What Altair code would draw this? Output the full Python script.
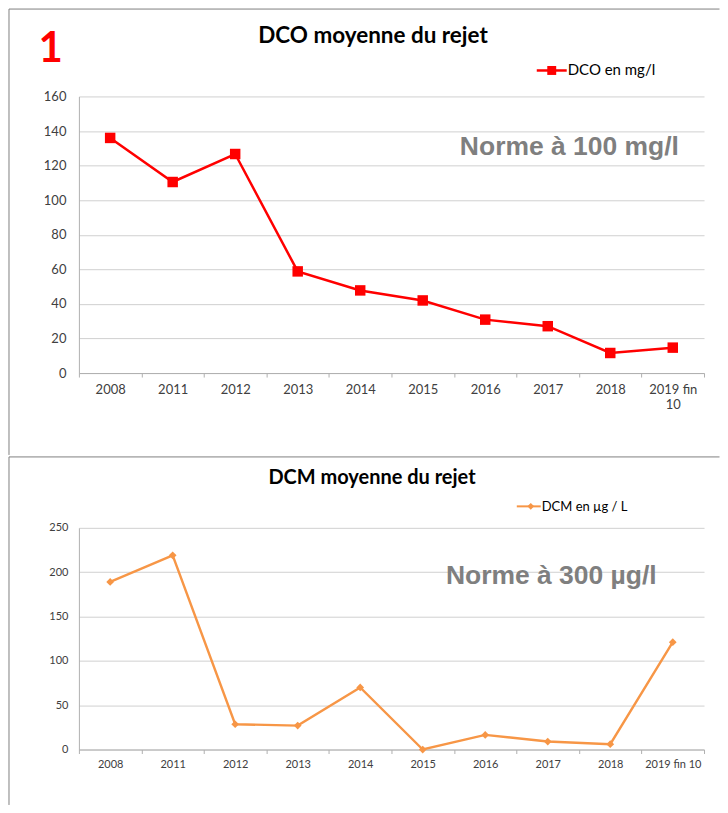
import altair as alt
import pandas as pd

years = ["2008", "2011", "2012", "2013", "2014", "2015", "2016", "2017", "2018", "2019 fin 10"]
dco = [136, 110.5, 126.7, 58.8, 47.8, 42.0, 30.9, 27.1, 11.6, 14.7]
dcm = [189, 219, 28.5, 27, 70, 0, 16.5, 9, 6, 121]

dco_ticks = [0, 20, 40, 60, 80, 100, 120, 140, 160]
dcm_ticks = [0, 50, 100, 150, 200, 250]

title1 = "DCO moyenne du rejet"
title2 = "DCM moyenne du rejet"
legend1 = "DCO en mg/l"
legend2 = "DCM en µg / L"
norme1 = "Norme à 100 mg/l"
norme2 = "Norme à 300 µg/l"
panel_no = "1"

W = 626
H1 = 277
H2 = 222
FONT = "Lato"
GRID = "#D0D0D0"
AXC = "#B0B0B0"
LBL = "#404040"
FRAME = "#808080"
RED = "#FF0000"
ORANGE = "#F79646"

df1 = pd.DataFrame({"year": years, "v": dco})
df2 = pd.DataFrame({"year": years, "v": dcm})
one = pd.DataFrame({"k": [0]})


def xenc(fs, pad, expr=None):
    ax = dict(title=None, labelAngle=0, tickBand="extent", tickSize=4,
              domainColor=AXC, tickColor=AXC, labelColor=LBL, labelFont=FONT,
              labelFontSize=fs, labelPadding=pad, grid=False, labelLineHeight=16)
    if expr:
        ax["labelExpr"] = expr
    return alt.X("year:N", sort=years, bandPosition=0.5,
                 scale=alt.Scale(type="band", paddingInner=0, paddingOuter=0),
                 axis=alt.Axis(**ax))


def yenc(ticks, fs, pad):
    return alt.Y("v:Q", scale=alt.Scale(domain=[ticks[0], ticks[-1]], nice=False),
                 axis=alt.Axis(title=None, values=ticks, ticks=False, domainColor=AXC,
                               gridColor=GRID, labelColor=LBL, labelFont=FONT,
                               labelFontSize=fs, labelPadding=pad))


def txt(s, x, y, size, color="#000000", weight="normal", font=FONT, align="left"):
    return alt.Chart(one).mark_text(text=s, font=font, fontSize=size, color=color,
                                    fontWeight=weight, align=align,
                                    baseline="alphabetic").encode(
        x=alt.value(x), y=alt.value(y))


def hrule(x1, x2, y, color=FRAME, w=1):
    return alt.Chart(one).mark_rule(color=color, strokeWidth=w).encode(
        x=alt.value(x1), x2=alt.value(x2), y=alt.value(y))


def vrule(x, y1, y2, color=FRAME, w=1):
    return alt.Chart(one).mark_rule(color=color, strokeWidth=w).encode(
        x=alt.value(x), y=alt.value(y1), y2=alt.value(y2))


# ---------- top panel (plot origin at page ~ (78.5, 96)) ----------
X0 = 78.5
Y0 = 96
b1 = alt.Chart(df1).encode(
    x=xenc(13, 6, "datum.value == '2019 fin 10' ? ['2019 fin', '10'] : datum.label"),
    y=yenc(dco_ticks, 13, 13))
line1 = b1.mark_line(color=RED, strokeWidth=2.5)
pts1 = b1.mark_point(shape="square", filled=True, size=110, color=RED, opacity=1)

top = alt.layer(
    line1, pts1,
    hrule(8.5 - X0, 720 - X0, 8.5 - Y0),
    vrule(8.5 - X0, 8.5 - Y0, 455 - Y0),
    txt(panel_no, 38 - X0, 62 - Y0, 42, RED, "bold"),
    txt(title1, 373 - X0, 42 - Y0, 22.5, "#000000", "bold", align="center"),
    hrule(537 - X0, 567 - X0, 70 - Y0, RED, 2.5),
    alt.Chart(one).mark_point(shape="square", filled=True, size=80, color=RED, opacity=1).encode(
        x=alt.value(552 - X0), y=alt.value(70 - Y0)),
    txt(legend1, 568 - X0, 75 - Y0, 15, "#000000"),
    txt(norme1, 460 - X0, 155 - Y0, 26.5, "#7F7F7F", "bold", font="Liberation Sans"),
).properties(width=W, height=H1)

# ---------- bottom panel (plot origin at page ~ (78.5, 526.5)) ----------
Y1 = 526.5
b2 = alt.Chart(df2).encode(x=xenc(11, 5), y=yenc(dcm_ticks, 11, 11))
line2 = b2.mark_line(color=ORANGE, strokeWidth=2.4)
pts2 = b2.mark_point(shape="diamond", filled=True, size=60, color=ORANGE, opacity=1)

bottom = alt.layer(
    line2, pts2,
    hrule(8.5 - X0, 720 - X0, 455.5 - Y1),
    vrule(8.5 - X0, 455.5 - Y1, 804 - Y1),
    txt(title2, 372 - X0, 483 - Y1, 20, "#000000", "bold", align="center"),
    hrule(517 - X0, 541 - X0, 505 - Y1, ORANGE, 2),
    alt.Chart(one).mark_point(shape="diamond", filled=True, size=45, color=ORANGE, opacity=1).encode(
        x=alt.value(531 - X0), y=alt.value(505 - Y1)),
    txt(legend2, 542 - X0, 509.5 - Y1, 13, "#000000"),
    txt(norme2, 446 - X0, 583 - Y1, 26.5, "#7F7F7F", "bold", font="Liberation Sans"),
).properties(width=W, height=H2)

chart = alt.vconcat(top, bottom, spacing=0).properties(
    padding={"top": 0, "left": 0, "right": 0, "bottom": 0},
    background="#FFFFFF",
).configure_view(stroke=None)

chart.save("out.html", embed_options={"renderer": "svg", "actions": False})
